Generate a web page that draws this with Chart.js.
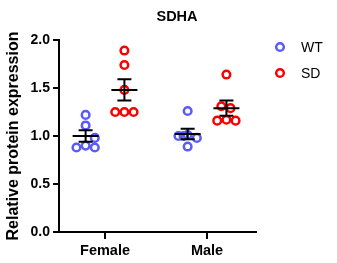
<!DOCTYPE html>
<html lang="en">
<head>
    <meta charset="UTF-8">
    <title>SDHA</title>
    <script src="https://cdn.jsdelivr.net/npm/chart.js"></script>
    <style>
        body { margin: 0; background: #fff; }
        #wrap { width: 337px; height: 263px; }
    </style>
</head>
<body>
    <div id="wrap"><canvas id="sdhaChart"></canvas></div>

    <script>
        const chartTitle = "SDHA";
        const groups = ["Female", "Male"];
        const yTicks = [0, 0.5, 1.0, 1.5, 2.0];

        // individual animals
        const wtFemale = [1.22, 1.11, 0.98, 0.88, 0.90, 0.88];
        const wtMale = [1.26, 1.00, 1.01, 0.98, 0.89, 1.00];
        const sdFemale = [1.89, 1.74, 1.48, 1.25, 1.25, 1.25];
        const sdMale = [1.64, 1.31, 1.29, 1.16, 1.17, 1.16];

        // horizontal spread of the dots inside each column
        const wtFemaleJitter = [0, 0, 0.09, -0.09, 0, 0.09];
        const wtMaleJitter = [0, -0.09, 0, 0.09, 0, -0.04];
        const sdFemaleJitter = [0, 0, 0, -0.09, 0, 0.09];
        const sdMaleJitter = [0, -0.05, 0.04, -0.09, 0, 0.09];

        // mean +/- SEM per group
        const wtMean = [1.00, 1.02];
        const wtSem = [0.06, 0.055];
        const sdMean = [1.48, 1.29];
        const sdSem = [0.11, 0.08];

        const groupOffset = { WT: -0.19, SD: 0.19 };
        const blue = "rgb(90, 90, 248)";
        const red = "rgb(250, 0, 0)";
        const fontFamily = "'Liberation Sans', Arial, sans-serif";

        function points(values, jitter, groupIndex, offset) {
            return values.map((v, i) => ({ x: groupIndex + 1 + offset + jitter[i], y: v }));
        }

        const wtData = points(wtFemale, wtFemaleJitter, 0, groupOffset.WT)
            .concat(points(wtMale, wtMaleJitter, 1, groupOffset.WT));
        const sdData = points(sdFemale, sdFemaleJitter, 0, groupOffset.SD)
            .concat(points(sdMale, sdMaleJitter, 1, groupOffset.SD));

        const summaries = [
            { offset: groupOffset.WT, mean: wtMean, sem: wtSem },
            { offset: groupOffset.SD, mean: sdMean, sem: sdSem }
        ];

        // mean line and SEM whiskers, placed through the chart's scales
        const errorBars = {
            id: "errorBars",
            afterDatasetsDraw(chart) {
                const { ctx, scales: { x, y } } = chart;
                ctx.save();
                ctx.strokeStyle = "#000";
                ctx.lineWidth = 2;
                summaries.forEach(s => {
                    groups.forEach((g, gi) => {
                        const cx = x.getPixelForValue(gi + 1 + s.offset);
                        const yMean = y.getPixelForValue(s.mean[gi]);
                        const yHi = y.getPixelForValue(s.mean[gi] + s.sem[gi]);
                        const yLo = y.getPixelForValue(s.mean[gi] - s.sem[gi]);
                        ctx.beginPath();
                        ctx.moveTo(cx - 13, yMean); ctx.lineTo(cx + 13, yMean);
                        ctx.moveTo(cx, yHi); ctx.lineTo(cx, yLo);
                        ctx.moveTo(cx - 7, yHi); ctx.lineTo(cx + 7, yHi);
                        ctx.moveTo(cx - 7, yLo); ctx.lineTo(cx + 7, yLo);
                        ctx.stroke();
                    });
                });
                ctx.restore();
            }
        };

        // title over the plot and the key on the right side
        const titleAndKey = {
            id: "titleAndKey",
            afterDraw(chart) {
                const { ctx, chartArea } = chart;
                ctx.save();
                ctx.fillStyle = "#000";
                ctx.textAlign = "center";
                ctx.textBaseline = "middle";
                ctx.font = "bold 14.5px " + fontFamily;
                ctx.fillText(chartTitle, 177, 17);

                ctx.textAlign = "left";
                ctx.font = "14px " + fontFamily;
                chart.data.datasets.forEach((ds, i) => {
                    const my = chartArea.top + 7 + i * 26;
                    const mx = chartArea.right + 24;
                    ctx.beginPath();
                    ctx.arc(mx, my, 3.8, 0, Math.PI * 2);
                    ctx.lineWidth = 2.5;
                    ctx.strokeStyle = ds.borderColor;
                    ctx.stroke();
                    ctx.fillText(ds.label, chartArea.right + 45, my + 1);
                });
                ctx.restore();
            }
        };

        new Chart(document.getElementById("sdhaChart"), {
            type: "scatter",
            data: {
                datasets: [
                    { label: "WT", data: wtData, borderColor: blue, backgroundColor: "transparent", pointRadius: 3.8, borderWidth: 2.5 },
                    { label: "SD", data: sdData, borderColor: red, backgroundColor: "transparent", pointRadius: 3.8, borderWidth: 2.5 }
                ]
            },
            options: {
                responsive: true,
                maintainAspectRatio: false,
                animation: false,
                layout: { padding: { top: 40, right: 81, left: 0, bottom: 0 } },
                plugins: {
                    legend: { display: false },
                    title: { display: false },
                    tooltip: { enabled: false }
                },
                scales: {
                    x: {
                        type: "linear",
                        min: 0.549,
                        max: 2.48,
                        afterBuildTicks: scale => { scale.ticks = groups.map((g, i) => ({ value: i + 1 })); },
                        afterFit: scale => { scale.height = 31; },
                        ticks: {
                            callback: (v, i) => groups[i],
                            color: "#000",
                            padding: 3,
                            font: { family: fontFamily, size: 14.5, weight: "bold" }
                        },
                        grid: { display: true, drawOnChartArea: false, drawTicks: true, tickLength: 7, color: "#000", lineWidth: 2 },
                        border: { display: true, color: "#000", width: 2 }
                    },
                    y: {
                        min: 0,
                        max: 2,
                        afterBuildTicks: scale => { scale.ticks = yTicks.map(v => ({ value: v })); },
                        afterFit: scale => { scale.width = 59; },
                        ticks: {
                            callback: v => v.toFixed(1),
                            color: "#000",
                            padding: 3,
                            font: { family: fontFamily, size: 14, weight: "bold" }
                        },
                        grid: { display: true, drawOnChartArea: false, drawTicks: true, tickLength: 6, color: "#000", lineWidth: 2 },
                        border: { display: true, color: "#000", width: 2 },
                        title: {
                            display: true,
                            text: "Relative protein expression",
                            color: "#000",
                            padding: { top: 3.5, bottom: 0 },
                            font: { family: fontFamily, size: 16, weight: "bold" }
                        }
                    }
                }
            },
            plugins: [errorBars, titleAndKey]
        });
    </script>
</body>
</html>
